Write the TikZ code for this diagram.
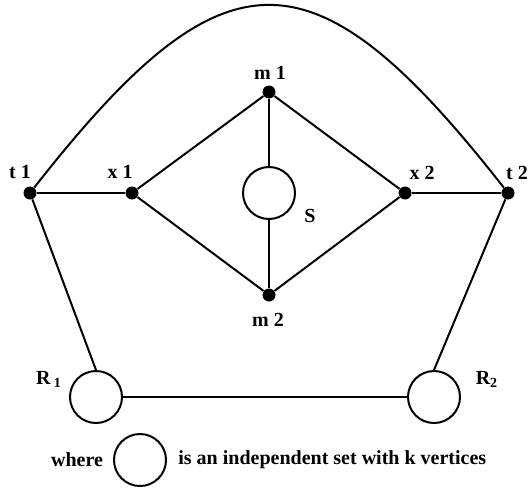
\documentclass[tikz,border=0pt]{standalone}
\usepackage{fontspec}
\setmainfont{Liberation Serif}
\usetikzlibrary{positioning}
\tikzset{
  vtx/.style={circle, fill=black, inner sep=0pt, minimum size=6.5pt},
  iset/.style={circle, draw, line width=1pt, inner sep=0pt, minimum size=26pt},
  lbl/.style={font=\bfseries, inner sep=1pt},
  edge/.style={line width=1pt},
}
\begin{document}
\begin{tikzpicture}[x=0.5pt, y=-0.5pt]
  \useasboundingbox (0,0) rectangle (529,487);
  % vertices
  \node[vtx] (t1) at (30,193) {};
  \node[vtx] (x1) at (132,193) {};
  \node[vtx] (m1) at (269,92) {};
  \node[vtx] (m2) at (269,295) {};
  \node[vtx] (x2) at (405,193) {};
  \node[vtx] (t2) at (508,193) {};
  % independent sets
  \node[iset] (S) at (269,193) {};
  \node[iset] (R1) at (96,397) {};
  \node[iset] (R2) at (434,397) {};
  % labels
  \node[lbl] (lt1) at (20,172) {t 1};
  \node[lbl] (lx1) at (120,172) {x 1};
  \node[lbl] (lm1) at (270,73) {m 1};
  \node[lbl] (lm2) at (268,320) {m 2};
  \node[lbl] (lx2) at (422,173) {x 2};
  \node[lbl] (lt2) at (517,173) {t 2};
  \node[lbl] (lS) at (310,216) {S};
  \node[lbl] (lR1) at (49,379) {R\,\textsubscript{1}};
  \node[lbl] (lR2) at (487,379) {R\textsubscript{2}};
  % edges
  \draw[edge] (t1) -- (x1);
  \draw[edge] (x1) -- (m1) -- (x2) -- (m2) -- (x1);
  \draw[edge] (x2) -- (t2);
  \draw[edge] (m1) -- (S) -- (m2);
  \draw[edge] (t1) -- (R1.north);
  \draw[edge] (t2) -- (R2.north);
  \draw[edge] (R1) -- (R2);
  \coordinate (c1) at (225,-56);
  \coordinate (c2) at (313,-56);
  \draw[edge] (t1) .. controls (c1) and (c2) .. (t2);
  % legend
  \node[lbl] (where) at (77,460) {where};
  \node[iset] (key) at (140,460) {};
  \node[lbl, anchor=west] (keytxt) at (176,460) {is an independent set with k vertices};
\end{tikzpicture}
\end{document}
